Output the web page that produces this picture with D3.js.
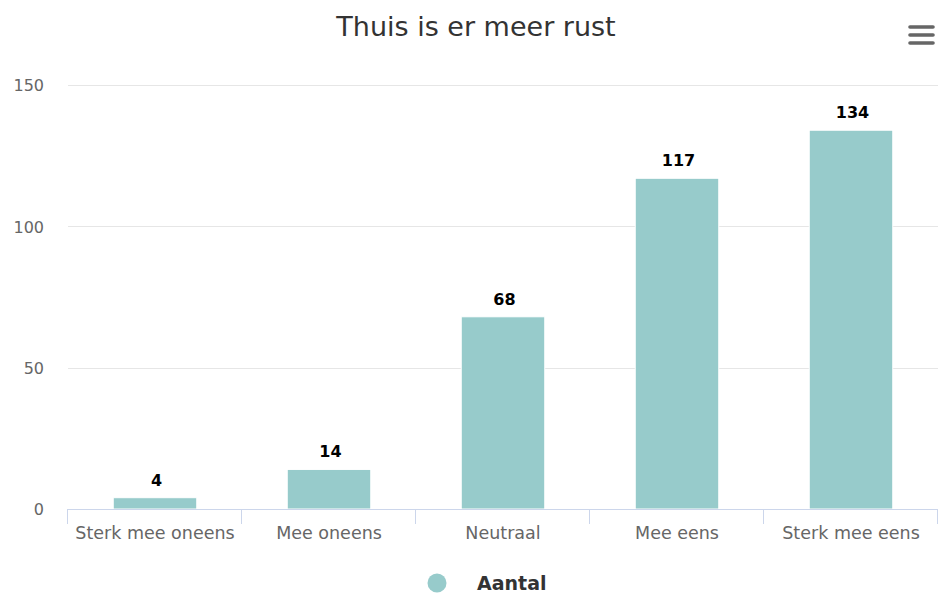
<!DOCTYPE html>
<html>
<head>
<meta charset="utf-8">
<script src="https://cdn.jsdelivr.net/npm/d3@7"></script>
<style>
  html, body { margin: 0; padding: 0; background: #fff; }
  svg { display: block; font-family: "DejaVu Sans", sans-serif; }
</style>
</head>
<body>
<svg id="chart" width="938" height="593"></svg>
<script>
const categories = ["Sterk mee oneens", "Mee oneens", "Neutraal", "Mee eens", "Sterk mee eens"];
const values = [4, 14, 68, 117, 134];
const yTicks = [0, 50, 100, 150];
const seriesName = "Aantal";
const titleText = "Thuis is er meer rust";

const svg = d3.select("#chart");
const W = 938, H = 593;
const margin = { left: 68, right: 0, top: 85, bottom: 84 };
const plotW = W - margin.left - margin.right;
const plotH = H - margin.top - margin.bottom;

const x = d3.scaleBand().domain(categories).range([margin.left, margin.left + plotW]).paddingInner(0).paddingOuter(0);
const y = d3.scaleLinear().domain([0, 150]).range([margin.top + plotH, margin.top]);

// title
svg.append("text")
  .attr("x", 476).attr("y", 36)
  .attr("text-anchor", "middle")
  .attr("fill", "#333333")
  .style("font-size", "27px")
  .text(titleText);

// menu button
const menu = svg.append("g").attr("stroke", "#666666").attr("stroke-width", 3.6).attr("stroke-linecap", "round");
[27, 35, 43].forEach(yy => menu.append("line").attr("x1", 910).attr("x2", 933).attr("y1", yy).attr("y2", yy));

// gridlines
svg.append("g").selectAll("line").data(yTicks.filter(d => d !== 0)).join("line")
  .attr("x1", margin.left).attr("x2", margin.left + plotW)
  .attr("y1", d => Math.round(y(d)) + 0.5).attr("y2", d => Math.round(y(d)) + 0.5)
  .attr("stroke", "#e6e6e6").attr("stroke-width", 1);

// y axis labels
const yAxis = d3.axisLeft(y).tickValues(yTicks).tickSize(0).tickPadding(0);
const gy = svg.append("g").attr("transform", `translate(${margin.left - 24},0)`).call(yAxis);
gy.select(".domain").remove();
gy.selectAll("text").attr("fill", "#666666").style("font-size", "16px").attr("font-family", "DejaVu Sans, sans-serif").attr("dy", "0.36em");

// bars
const barW = x.bandwidth() * 0.48;
svg.append("g").selectAll("rect").data(values).join("rect")
  .attr("x", (d, i) => x(categories[i]) + (x.bandwidth() - barW) / 2)
  .attr("y", d => y(d))
  .attr("width", barW)
  .attr("height", d => y(0) - y(d))
  .attr("fill", "#97cbcb")
  .attr("stroke", "#ffffff").attr("stroke-width", 1);

// data labels
svg.append("g").selectAll("text").data(values).join("text")
  .attr("x", (d, i) => x(categories[i]) + x.bandwidth() / 2 + 1.5)
  .attr("y", d => y(d) - 12)
  .attr("text-anchor", "middle")
  .attr("fill", "#000000")
  .style("font-size", "16px").style("font-weight", "bold")
  .text(d => d);

// x axis
const xAxis = d3.axisBottom(x).tickSize(0).tickPadding(0);
const gx = svg.append("g").attr("transform", `translate(0,${y(0)})`).call(xAxis);
gx.select(".domain").attr("d", `M${margin.left},0.5H${margin.left + plotW}`).attr("stroke", "#ccd6eb");
gx.selectAll("text").attr("fill", "#666666").style("font-size", "17.5px").attr("font-family", "DejaVu Sans, sans-serif").attr("y", 30).attr("dy", 0);
// category boundary ticks
const bounds = categories.map(c => x(c)).concat([margin.left + plotW]);
gx.append("g").selectAll("line").data(bounds).join("line")
  .attr("x1", d => Math.round(d) - 0.5).attr("x2", d => Math.round(d) - 0.5)
  .attr("y1", 0).attr("y2", 15)
  .attr("stroke", "#ccd6eb");

// legend
svg.append("circle").attr("cx", 437).attr("cy", 583).attr("r", 9.5).attr("fill", "#97cbcb");
svg.append("text").attr("x", 477).attr("y", 590)
  .attr("fill", "#333333").style("font-size", "19px").style("font-weight", "bold")
  .text(seriesName);
</script>
</body>
</html>
